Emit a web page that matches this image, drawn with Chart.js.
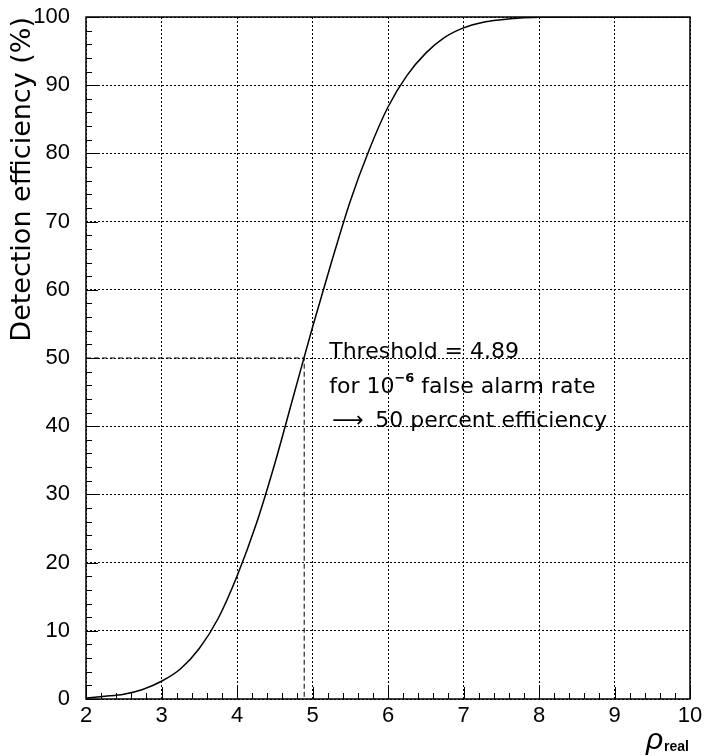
<!DOCTYPE html>
<html>
<head>
<meta charset="utf-8">
<script src="https://cdn.jsdelivr.net/npm/chart.js@4/dist/chart.umd.min.js"></script>
<style>
  body { margin: 0; background: #fff; }
  canvas { display: block; }
</style>
</head>
<body>
<canvas id="myChart" width="704" height="756"></canvas>
<script>
// rho_real values and detection efficiency (%)
const rhoVals = [2, 2.25, 2.5, 2.75, 3, 3.25, 3.5, 3.75, 4, 4.25, 4.5, 4.75, 5, 5.25, 5.5, 5.75, 6, 6.25, 6.5, 6.75, 7, 7.25, 7.5, 7.75, 8, 8.5, 9, 9.5, 10];
const effVals = [0.15, 0.4, 0.7, 1.4, 2.6, 4.4, 7.4, 11.8, 18, 25.5, 34.5, 44.5, 54.5, 64, 73, 80.5, 86.8, 91.4, 94.7, 97, 98.4, 99.2, 99.6, 99.85, 99.95, 100, 100, 100, 100];

// threshold marker
const threshold = 4.89;
const thresholdEff = 50;

const xTicks = [2, 3, 4, 5, 6, 7, 8, 9, 10];
const yTicks = [0, 10, 20, 30, 40, 50, 60, 70, 80, 90, 100];

const FONT = "'Liberation Sans', 'DejaVu Sans', sans-serif";
const WIDE = "'DejaVu Sans', sans-serif";

const framePlugin = {
  id: 'frame',
  beforeDraw(chart) {
    const ctx = chart.ctx;
    ctx.save();
    ctx.fillStyle = '#fff';
    ctx.fillRect(0, 0, chart.width, chart.height);
    ctx.restore();
  },
  afterDraw(chart) {
    const { ctx, chartArea: a, scales } = chart;
    const x = scales.x, y = scales.y;
    ctx.save();
    ctx.strokeStyle = '#000';
    ctx.lineWidth = 1.5;
    ctx.strokeRect(a.left, a.top, a.right - a.left, a.bottom - a.top);

    // inward ticks
    ctx.lineWidth = 1;
    ctx.beginPath();
    for (let i = 0; i <= 40; i++) {
      const v = 2 + i * 0.2;
      const px = Math.round(x.getPixelForValue(v)) + 0.5;
      const len = i % 5 === 0 ? 12 : 6;
      ctx.moveTo(px, a.bottom);
      ctx.lineTo(px, a.bottom - len);
    }
    for (let i = 0; i <= 50; i++) {
      const v = i * 2;
      const py = Math.round(y.getPixelForValue(v)) + 0.5;
      const len = i % 5 === 0 ? 12 : 6;
      ctx.moveTo(a.left, py);
      ctx.lineTo(a.left + len, py);
    }
    ctx.stroke();

    // annotation
    ctx.fillStyle = '#000';
    ctx.textBaseline = 'alphabetic';
    ctx.font = '22px ' + WIDE;
    const tx = x.getPixelForValue(threshold) + 25;
    ctx.fillText('Threshold = 4.89', tx, 358);
    ctx.fillText('for 10', tx, 393);
    let w = ctx.measureText('for 10').width;
    ctx.font = 'bold 13px ' + WIDE;
    ctx.fillText('\u22126', tx + w, 382);
    let w2 = ctx.measureText('\u22126').width;
    ctx.font = '22px ' + WIDE;
    ctx.fillText(' false alarm rate', tx + w + w2, 393);
    ctx.fillText('\u27F6', tx + 3, 427);
    ctx.fillText('50 percent efficiency', tx + 46, 427);

    // x axis title
    ctx.font = 'italic 30px ' + FONT;
    ctx.fillText('\u03c1', 646, 749);
    ctx.font = 'bold 14px ' + FONT;
    ctx.fillText('real', 664, 751);
    ctx.restore();
  }
};

const ctx = document.getElementById('myChart').getContext('2d');
const chart = new Chart(ctx, {
  type: 'line',
  data: {
    datasets: [
      {
        data: rhoVals.map((r, i) => ({ x: r, y: effVals[i] })),
        borderColor: '#000',
        borderWidth: 1.5,
        pointRadius: 0,
        cubicInterpolationMode: 'monotone',
        fill: false,
      },
      {
        data: [
          { x: rhoVals[0], y: thresholdEff },
          { x: threshold, y: thresholdEff },
          { x: threshold, y: 0 },
        ],
        borderColor: '#000',
        borderWidth: 1,
        borderDash: [5, 3],
        pointRadius: 0,
        tension: 0,
        fill: false,
      },
    ],
  },
  options: {
    responsive: false,
    animation: false,
    devicePixelRatio: 1,
    layout: { padding: { top: 17, right: 14, left: 0, bottom: 0 } },
    plugins: {
      legend: { display: false },
      tooltip: { enabled: false },
    },
    scales: {
      x: {
        type: 'linear',
        min: 2,
        max: 10,
        afterFit(scale) {
          scale.height = 57;
          scale.paddingLeft = 0;
          scale.paddingRight = 0;
        },
        afterBuildTicks(scale) { scale.ticks = xTicks.map((v) => ({ value: v })); },
        ticks: { color: '#000', font: { family: FONT, size: 22 }, padding: 4, maxRotation: 0 },
        grid: { color: '#000', lineWidth: 1, drawTicks: false },
        border: { display: false, dash: [2, 2] },
      },
      y: {
        min: 0,
        max: 100,
        afterFit(scale) {
          scale.width = 86;
          scale.paddingTop = 0;
          scale.paddingBottom = 0;
        },
        afterBuildTicks(scale) { scale.ticks = yTicks.map((v) => ({ value: v })); },
        ticks: { color: '#000', font: { family: FONT, size: 22 }, padding: 16 },
        grid: { color: '#000', lineWidth: 1, drawTicks: false },
        border: { display: false, dash: [2, 2] },
        title: {
          display: true,
          text: 'Detection efficiency (%)',
          align: 'end',
          color: '#000',
          font: { family: WIDE, size: 27 },
          padding: { top: 7, bottom: 0 },
        },
      },
    },
  },
  plugins: [framePlugin],
});
</script>
</body>
</html>
